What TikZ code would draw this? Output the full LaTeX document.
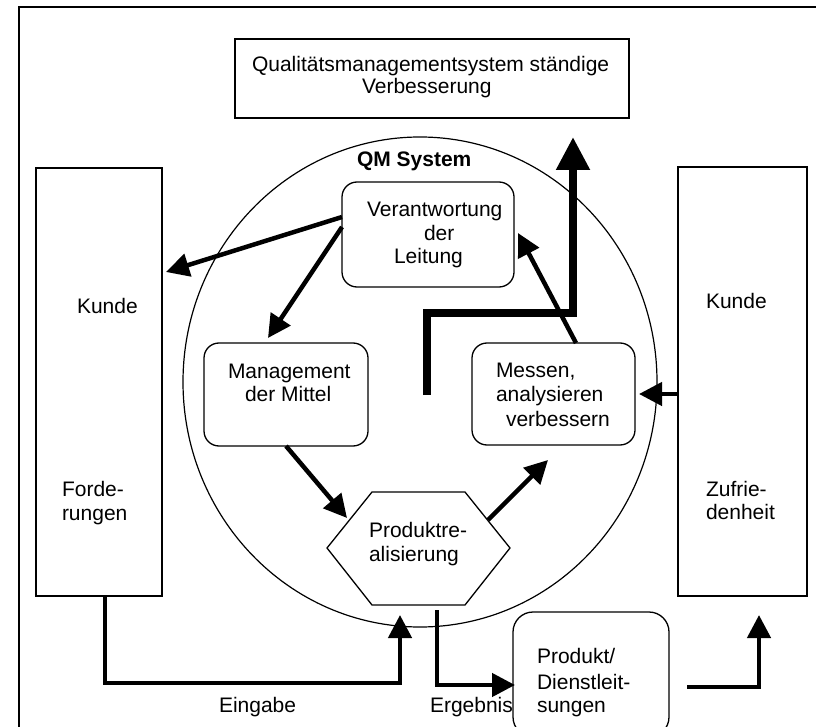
\documentclass[tikz,border=0pt]{standalone}
\usepackage{fontspec}
\setmainfont{Liberation Sans}
\usetikzlibrary{arrows.meta,calc,shapes.geometric}
\begin{document}
\begin{tikzpicture}[x=1pt,y=-1pt,
  every node/.style={inner sep=0pt, outer sep=0pt},
  txt/.style={anchor=base west, font=\fontsize{21}{23}\selectfont},
  box/.style={draw, line width=1.5pt, fill=white},
  rbox/.style={draw, line width=1.3pt, rounded corners=15pt, fill=white},
  arr/.style={line width=4.5pt, -{Triangle[length=23pt,width=23pt]}},
  bigarr/.style={line width=8pt, -{Triangle[length=33pt,width=32pt]}},
]
\useasboundingbox (0,0) rectangle (816,727);
\clip (0,0) rectangle (816,727);
\fill[white] (0,0) rectangle (816,727);
% outer frame (cut off at right and bottom)
\draw[line width=2pt] (18.5,760) -- (18.5,7.3) -- (840,7.3);

% circle
\node[draw, ellipse, line width=1.2pt, minimum width=474pt, minimum height=490pt] (qm) at (420,382) {};

% boxes
\node[box, minimum width=394pt, minimum height=79pt] (top) at (432,78.5) {};
\node[box, minimum width=126pt, minimum height=428pt] (kundeL) at (99,382) {};
\node[box, minimum width=129pt, minimum height=429pt] (kundeR) at (742.5,381.5) {};
\node[rbox, minimum width=172pt, minimum height=105pt] (verant) at (428,234.5) {};
\node[rbox, minimum width=164pt, minimum height=103pt] (mgmt) at (286,394.5) {};
\node[rbox, minimum width=163pt, minimum height=102pt] (messen) at (553.5,394) {};
\node[rbox, rounded corners=20pt, minimum width=156pt, minimum height=125pt] (produkt) at (591,674.5) {};

% hexagon
\coordinate (h1) at (372,492);
\coordinate (h2) at (465,492);
\coordinate (h3) at (510,548);
\coordinate (h4) at (465,605);
\coordinate (h5) at (372,605);
\coordinate (h6) at (327,548);
\coordinate (hexB) at (418.5,605);
\draw[line width=1.3pt, fill=white] (h1) -- (h2) -- (h3) -- (h4) -- (h5) -- (h6) -- cycle;

% texts
\node[txt] (t1) at (252,72) {Qualitätsmanagementsystem ständige};
\node[txt] (t2) at (362,94) {Verbesserung};
\node[txt, font=\fontsize{21}{23}\selectfont\bfseries] (tqm) at (357,167) {QM System};
\node[txt] (tv1) at (367,217) {Verantwortung};
\node[txt] (tv2) at (424,241) {der};
\node[txt] (tv3) at (394,264) {Leitung};
\node[txt] (tm1) at (228,378) {Management};
\node[txt] (tm2) at (245,401) {der Mittel};
\node[txt] (te1) at (496,377) {Messen,};
\node[txt] (te2) at (496,401) {analysieren};
\node[txt] (te3) at (506,426) {verbessern};
\node[txt] (tp1) at (369,537) {Produktre-};
\node[txt] (tp2) at (369,561) {alisierung};
\node[txt] (td1) at (537,663) {Produkt/};
\node[txt] (td2) at (537,689) {Dienstleit-};
\node[txt] (td3) at (537,712) {sungen};
\node[txt] (tkl) at (77,313) {Kunde};
\node[txt] (tf1) at (62,496) {Forde-};
\node[txt] (tf2) at (62,520) {rungen};
\node[txt] (tkr) at (706,308) {Kunde};
\node[txt] (tz1) at (706,496) {Zufrie-};
\node[txt] (tz2) at (706,519) {denheit};
\node[txt] (tein) at (219,712) {Eingabe};
\node[txt] (terg) at (430,712) {Ergebnis};

% connectors
\draw[arr] ([yshift=17.5pt]verant.west) -- ([shift={(4pt,110pt)}]kundeL.east);
\draw[arr] ([yshift=7.5pt]verant.west) -- ([shift={(-18pt,5pt)}]mgmt.north);
\draw[arr] (mgmt.south) -- ([shift={(20pt,30pt)}]h6);
\draw[arr] ([shift={(-22pt,28pt)}]h3) -- ([shift={(-5.5pt,-15pt)}]messen.south);
\draw[arr] ([xshift=22.5pt]messen.north) -- ([shift={(4pt,1.5pt)}]verant.east);
\coordinate (qa) at (427,395);
\coordinate (qc) at (573,313);
\draw[bigarr] (qa) |- (qc) -- ([shift={(141pt,-19pt)}]top.south);
\draw[arr] ([yshift=-12.5pt]kundeR.west) -- ([xshift=4pt]messen.east);
\draw[arr] ([xshift=6pt]kundeL.south) -- ++(0,87) -| ([shift={(-18.5pt,-10pt)}]hexB);
\draw[arr] ([shift={(18.5pt,-5pt)}]hexB) |- ([shift={(2pt,-10.5pt)}]produkt.west);
\draw[arr] ([shift={(18pt,-12.5pt)}]produkt.east) -| ([shift={(16.5pt,-19pt)}]kundeR.south);
\end{tikzpicture}
\end{document}
